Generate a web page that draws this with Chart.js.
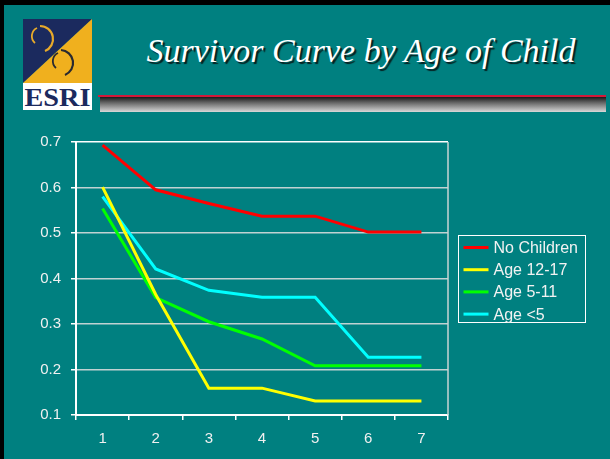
<!DOCTYPE html>
<html>
<head>
<meta charset="utf-8">
<script src="https://cdn.jsdelivr.net/npm/chart.js@4/dist/chart.umd.min.js"></script>
<style>
  html, body { margin: 0; padding: 0; }
  body { width: 610px; height: 459px; background: #008080; position: relative; overflow: hidden; font-family: "Liberation Sans", Arial, sans-serif; }
  #borderTop { position: absolute; left: 0; top: 0; width: 610px; height: 5px; background: #000; }
  #borderLeft { position: absolute; left: 0; top: 0; width: 4px; height: 459px; background: #000; }
  #logo { position: absolute; left: 23px; top: 19px; width: 69px; height: 91px; }
  #esri { position: absolute; left: 23px; top: 83px; width: 69px; height: 27px; background: #fff; overflow: hidden; }
  #esri span { display: block; color: #1b2a5e; font-family: "Liberation Serif", "Times New Roman", serif; font-weight: bold;
          font-size: 25px; line-height: 27px; text-align: center; transform: scaleX(1.13); transform-origin: center; margin-top: 1px; }
  #redline { position: absolute; left: 98px; top: 95px; width: 508px; height: 2px; background: #d4183a; }
  #bar { position: absolute; left: 100px; top: 97px; width: 506px; height: 15px; background: linear-gradient(#1a1a1a, #6a6a6a 40%, #d8d8d8); }
  #title { position: absolute; left: 100px; top: 31px; width: 522px; text-align: center; color: #fff;
           font-family: "Liberation Serif", "Times New Roman", serif; font-style: italic; font-size: 34px; line-height: 40px;
           text-shadow: 2px 2px 1px #062020; }
  #c { position: absolute; left: 0; top: 0; }
</style>
</head>
<body>
<div id="borderTop"></div>
<div id="borderLeft"></div>
<svg id="logo" width="69" height="91" viewBox="0 0 69 91">
  <polygon points="0,0 69,0 0,64" fill="#1b2a5e"/>
  <polygon points="69,0 69,64 0,64" fill="#f0b01e"/>
  <path d="M 17 7 A 13 13 0 0 1 22 32" fill="none" stroke="#e8aa2a" stroke-width="2.2"/>
  <path d="M 12 24 A 9 9 0 0 1 14 9" fill="none" stroke="#e8aa2a" stroke-width="1.8"/>
  <path d="M 38 31 A 13 13 0 0 1 42 56" fill="none" stroke="#2a2a30" stroke-width="2.2"/>
  <path d="M 33 49 A 9 9 0 0 1 35 34" fill="none" stroke="#2a2a30" stroke-width="1.8"/>
</svg>
<div id="esri"><span>ESRI</span></div>
<div id="redline"></div>
<div id="bar"></div>
<div id="title">Survivor Curve by Age of Child</div>
<canvas id="c" width="610" height="459"></canvas>
<script>
const categories = ['1', '2', '3', '4', '5', '6', '7'];
const seriesNames = ['No Children', 'Age 12-17', 'Age 5-11', 'Age <5'];
const noChildren = [0.693, 0.595, 0.565, 0.537, 0.537, 0.502, 0.502];
const age12to17 = [0.601, 0.365, 0.159, 0.159, 0.131, 0.131, 0.131];
const age5to11 = [0.554, 0.358, 0.305, 0.267, 0.208, 0.208, 0.208];
const ageUnder5 = [0.580, 0.421, 0.374, 0.359, 0.359, 0.227, 0.227];
const yTickValues = [0.1, 0.2, 0.3, 0.4, 0.5, 0.6, 0.7];
const seriesColors = ['#ff0000', '#ffff00', '#00ff00', '#00ffff'];

const seriesValues = [noChildren, age12to17, age5to11, ageUnder5];

const legendPlugin = {
  id: 'boxLegend',
  afterDraw(chart) {
    const ctx = chart.ctx;
    const area = chart.chartArea;
    ctx.save();
    ctx.strokeStyle = '#c8d4d4';
    ctx.lineWidth = 1.5;
    ctx.beginPath();
    ctx.moveTo(area.right, area.top);
    ctx.lineTo(area.right, area.bottom);
    ctx.stroke();
    const bx = 458.5, by = 235.5, bw = 127, bh = 87;
    ctx.strokeStyle = '#ffffff';
    ctx.lineWidth = 1;
    ctx.strokeRect(bx, by, bw, bh);
    ctx.font = '16px "Liberation Sans", Arial, sans-serif';
    ctx.textBaseline = 'middle';
    chart.data.datasets.forEach((ds, i) => {
      const y = by + 12 + i * 22.2;
      ctx.strokeStyle = ds.borderColor;
      ctx.lineWidth = 3;
      ctx.beginPath();
      ctx.moveTo(bx + 5, y);
      ctx.lineTo(bx + 30, y);
      ctx.stroke();
      ctx.fillStyle = '#f2f2f2';
      ctx.fillText(ds.label, bx + 35, y + 1);
    });
    ctx.restore();
  }
};

new Chart(document.getElementById('c'), {
  type: 'line',
  data: {
    labels: categories,
    datasets: seriesNames.map((name, i) => ({
      label: name,
      data: seriesValues[i],
      borderColor: seriesColors[i],
      backgroundColor: seriesColors[i],
      borderWidth: 3,
      pointRadius: 0,
      tension: 0,
      fill: false
    }))
  },
  options: {
    responsive: false,
    animation: false,
    layout: { padding: { left: 0, top: 142, right: 162, bottom: 14 } },
    plugins: { legend: { display: false }, tooltip: { enabled: false }, title: { display: false } },
    scales: {
      x: {
        offset: true,
        grid: { offset: true, drawOnChartArea: false, drawTicks: true, tickLength: 5, color: '#ffffff', lineWidth: 1.5 },
        border: { color: '#ffffff', width: 2 },
        ticks: { color: '#f0f0f0', font: { family: '"Liberation Sans", Arial, sans-serif', size: 15 }, padding: 10, maxRotation: 0 },
        afterFit(scale) { scale.height = 30; }
      },
      y: {
        min: 0.1,
        max: 0.7,
        afterBuildTicks(scale) { scale.ticks = yTickValues.map(v => ({ value: v })); },
        grid: {
          color: (c) => (c.tick && Math.abs(c.tick.value - 0.7) < 1e-6) ? '#ffffff' : '#c0d2d2',
          lineWidth: 1.5,
          tickLength: 5,
          tickColor: '#ffffff'
        },
        border: { color: '#ffffff', width: 2 },
        ticks: {
          color: '#f0f0f0',
          font: { family: '"Liberation Sans", Arial, sans-serif', size: 15 },
          padding: 10,
          callback: (v) => Number(v).toFixed(1)
        },
        afterFit(scale) { scale.width = 76; }
      }
    }
  },
  plugins: [legendPlugin]
});
</script>
</body>
</html>
